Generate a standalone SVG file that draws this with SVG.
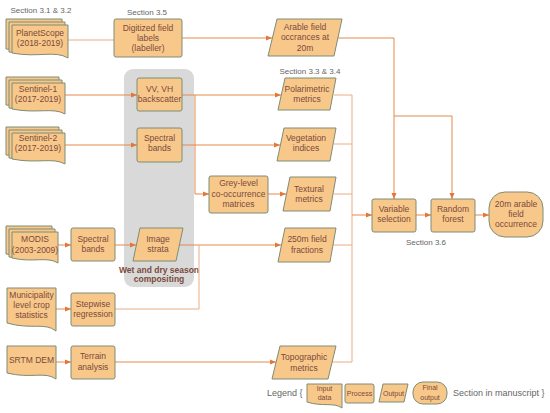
<svg xmlns="http://www.w3.org/2000/svg" width="550" height="413" viewBox="0 0 550 413">
<defs>
<marker id="arr" viewBox="0 0 6 6" refX="6" refY="3" markerWidth="6" markerHeight="6" markerUnits="userSpaceOnUse" orient="auto">
<path d="M0,0.5 L6,3 L0,5.5 Z" fill="#e2773a"/>
</marker>
<style>
.n{fill:#f8c88a;stroke:#7f8c74;stroke-width:1}
.t{font-family:"Liberation Sans",Arial,sans-serif;font-size:8.5px;fill:#7a4a3c;text-anchor:middle}
.tl{font-family:"Liberation Sans",Arial,sans-serif;font-size:7px;fill:#7a4a3c;text-anchor:middle}
.s{font-family:"Liberation Sans",Arial,sans-serif;font-size:8px;fill:#666;text-anchor:middle}
.c{fill:none;stroke:#e5894c;stroke-width:1}
.cl{fill:none;stroke:#e8ad86;stroke-width:1}
.a{marker-end:url(#arr)}
</style>
</defs>
<rect width="550" height="413" fill="#fff"/>

<g id="panel">
<rect x="124" y="69" width="70" height="218" rx="9" fill="#d9d9d9"/>
<text class="t" x="159" y="273" font-weight="bold" font-size="7.3">Wet and dry season</text>
<text class="t" x="159" y="282" font-weight="bold" font-size="7.3">compositing</text>
</g>

<g id="sections">
<text class="s" x="41" y="13">Section 3.1 &amp; 3.2</text>
<text class="s" x="147" y="15">Section 3.5</text>
<text class="s" x="310" y="74">Section 3.3 &amp; 3.4</text>
<text class="s" x="426" y="245">Section 3.6</text>
</g>

<g id="connectors">
<path class="cl" d="M68,40 H114"/>
<path class="c a" d="M182,38 H272"/>
<path class="c" d="M338,38 H394 V116 H452"/>
<path class="c a" d="M394,116 V199"/>
<path class="c a" d="M452,116 V199"/>
<path class="c a" d="M65,95 H137"/>
<path class="c a" d="M182,95 H281"/>
<path class="c a" d="M195,95 V194 H209"/>
<path class="c a" d="M65,145 H137"/>
<path class="c a" d="M182,145 H280"/>
<path class="c a" d="M268,194 H286"/>
<path class="c a" d="M58,245 H71"/>
<path class="c a" d="M115,245 H136"/>
<path class="c a" d="M178,245 H281"/>
<path class="cl" d="M115,309 H199 V245"/>
<path class="c a" d="M56,309 H71"/>
<path class="c a" d="M56,362 H71"/>
<path class="c a" d="M115,362 H276"/>
<path class="cl" d="M334,95 H352 M334,144 H352 M334,194 H352 M333,245 H352 M331,362 H352 M352,95 V362"/>
<path class="c a" d="M352,215 H372"/>
<path class="c a" d="M416,215 H431"/>
<path class="c a" d="M475,215 H489"/>
</g>

<g id="planetscope">
<path class="n" d="M6,19 H62 V49 C50,46 36,52 6,49 Z"/>
<path class="n" d="M9,22 H65 V52 C53,49 39,55 9,52 Z"/>
<path class="n" d="M12,25 H68 V58 C55,50 38,58 12,53 Z"/>
<text class="t" x="40" y="36">PlanetScope</text>
<text class="t" x="40" y="46">(2018-2019)</text>
</g>

<g id="digitized">
<rect class="n" x="114" y="19" width="68" height="38" rx="2"/>
<text class="t" x="148" y="31">Digitized field</text>
<text class="t" x="148" y="41">labels</text>
<text class="t" x="148" y="51">(labeller)</text>
</g>

<g id="arable">
<path class="n" d="M277,19 H342 L334,56 H268 Z"/>
<text class="t" x="305" y="30">Arable field</text>
<text class="t" x="305" y="40">occrances at</text>
<text class="t" x="305" y="51">20m</text>
</g>

<g id="sentinel1">
<path class="n" d="M6,77 H59 V105 C48,102 34,108 6,105 Z"/>
<path class="n" d="M9,80 H62 V108 C51,105 37,111 9,108 Z"/>
<path class="n" d="M12,83 H65 V114 C53,107 37,114 12,109 Z"/>
<text class="t" x="38" y="92">Sentinel-1</text>
<text class="t" x="38" y="102">(2017-2019)</text>
</g>

<g id="vvvh">
<rect class="n" x="137" y="78" width="45" height="33" rx="2"/>
<text class="t" x="159.5" y="92">VV, VH</text>
<text class="t" x="159.5" y="102">backscatter</text>
</g>

<g id="polarimetric">
<path class="n" d="M285,78 H336 L330,110 H278 Z"/>
<text class="t" x="307" y="92">Polarimetric</text>
<text class="t" x="307" y="102">metrics</text>
</g>

<g id="sentinel2">
<path class="n" d="M6,127 H59 V155 C48,152 34,158 6,155 Z"/>
<path class="n" d="M9,130 H62 V158 C51,155 37,161 9,158 Z"/>
<path class="n" d="M12,133 H65 V164 C53,157 37,164 12,159 Z"/>
<text class="t" x="38" y="141">Sentinel-2</text>
<text class="t" x="38" y="151">(2017-2019)</text>
</g>

<g id="spectral1">
<rect class="n" x="137" y="128" width="45" height="34" rx="2"/>
<text class="t" x="159.5" y="141">Spectral</text>
<text class="t" x="159.5" y="151">bands</text>
</g>

<g id="vegetation">
<path class="n" d="M284,128 H336 L330,161 H277 Z"/>
<text class="t" x="306" y="141">Vegetation</text>
<text class="t" x="306" y="151">indices</text>
</g>

<g id="glcm">
<rect class="n" x="209" y="176" width="59" height="37" rx="2"/>
<text class="t" x="238.5" y="186">Grey-level</text>
<text class="t" x="238.5" y="197">co-occurrence</text>
<text class="t" x="238.5" y="207">matrices</text>
</g>

<g id="textural">
<path class="n" d="M290,177 H336 L330,211 H283 Z"/>
<text class="t" x="309" y="192">Textural</text>
<text class="t" x="309" y="202">metrics</text>
</g>

<g id="modis">
<path class="n" d="M6,226 H52 V254 C42,251 30,257 6,254 Z"/>
<path class="n" d="M9,229 H55 V257 C45,254 33,260 9,257 Z"/>
<path class="n" d="M12,232 H58 V263 C47,256 33,263 12,258 Z"/>
<text class="t" x="35" y="242">MODIS</text>
<text class="t" x="35" y="253">(2003-2009)</text>
</g>

<g id="spectral2">
<rect class="n" x="71" y="228" width="44" height="33" rx="2"/>
<text class="t" x="93" y="242">Spectral</text>
<text class="t" x="93" y="252">bands</text>
</g>

<g id="strata">
<path class="n" d="M140,228 H183 L176,261 H133 Z"/>
<text class="t" x="158" y="242">Image</text>
<text class="t" x="158" y="252">strata</text>
</g>

<g id="field250">
<path class="n" d="M285,228 H336 L330,262 H278 Z"/>
<text class="t" x="307" y="242">250m field</text>
<text class="t" x="307" y="253">fractions</text>
</g>

<g id="municipality">
<path class="n" d="M7,288 H56 V331 C45,322 31,330 7,323 Z"/>
<text class="t" x="31.5" y="298">Municipality</text>
<text class="t" x="31.5" y="308">level crop</text>
<text class="t" x="31.5" y="318">statistics</text>
</g>

<g id="stepwise">
<rect class="n" x="71" y="293" width="44" height="33" rx="2"/>
<text class="t" x="93" y="307">Stepwise</text>
<text class="t" x="93" y="317">regression</text>
</g>

<g id="srtm">
<path class="n" d="M7,346 H56 V379 C45,371 31,379 7,373 Z"/>
<text class="t" x="31.5" y="363">SRTM DEM</text>
</g>

<g id="terrain">
<rect class="n" x="71" y="346" width="44" height="33" rx="2"/>
<text class="t" x="93" y="359">Terrain</text>
<text class="t" x="93" y="370">analysis</text>
</g>

<g id="topographic">
<path class="n" d="M280,346 H336 L328,379 H272 Z"/>
<text class="t" x="304" y="360">Topographic</text>
<text class="t" x="304" y="371">metrics</text>
</g>

<g id="varsel">
<rect class="n" x="372" y="199" width="44" height="33" rx="2"/>
<text class="t" x="394" y="212">Variable</text>
<text class="t" x="394" y="222">selection</text>
</g>

<g id="randomforest">
<rect class="n" x="431" y="199" width="44" height="33" rx="2"/>
<text class="t" x="453" y="212">Random</text>
<text class="t" x="453" y="222">forest</text>
</g>

<g id="final">
<rect class="n" x="489" y="192" width="54" height="45" rx="16"/>
<text class="t" x="516" y="207">20m arable</text>
<text class="t" x="516" y="217">field</text>
<text class="t" x="516" y="227">occurrence</text>
</g>

<g id="legend">
<text x="267" y="396" font-family="Liberation Sans, Arial, sans-serif" font-size="9" fill="#666">Legend {</text>
<path class="n" d="M307,384 H342 V408 C334,402 322,407 307,402 Z"/>
<text class="tl" x="324.5" y="391">Input</text>
<text class="tl" x="324.5" y="400">data</text>
<rect class="n" x="345" y="384" width="29" height="19" rx="2"/>
<text class="tl" x="359.5" y="396">Process</text>
<path class="n" d="M383,384 H408 L404,402 H379 Z"/>
<text class="tl" x="393.5" y="396">Output</text>
<rect class="n" x="413" y="382" width="34" height="22" rx="10"/>
<text class="tl" x="430" y="390">Final</text>
<text class="tl" x="430" y="400">output</text>
<text x="453" y="396" font-family="Liberation Sans, Arial, sans-serif" font-size="9" fill="#666">Section in manuscript }</text>
</g>
</svg>
